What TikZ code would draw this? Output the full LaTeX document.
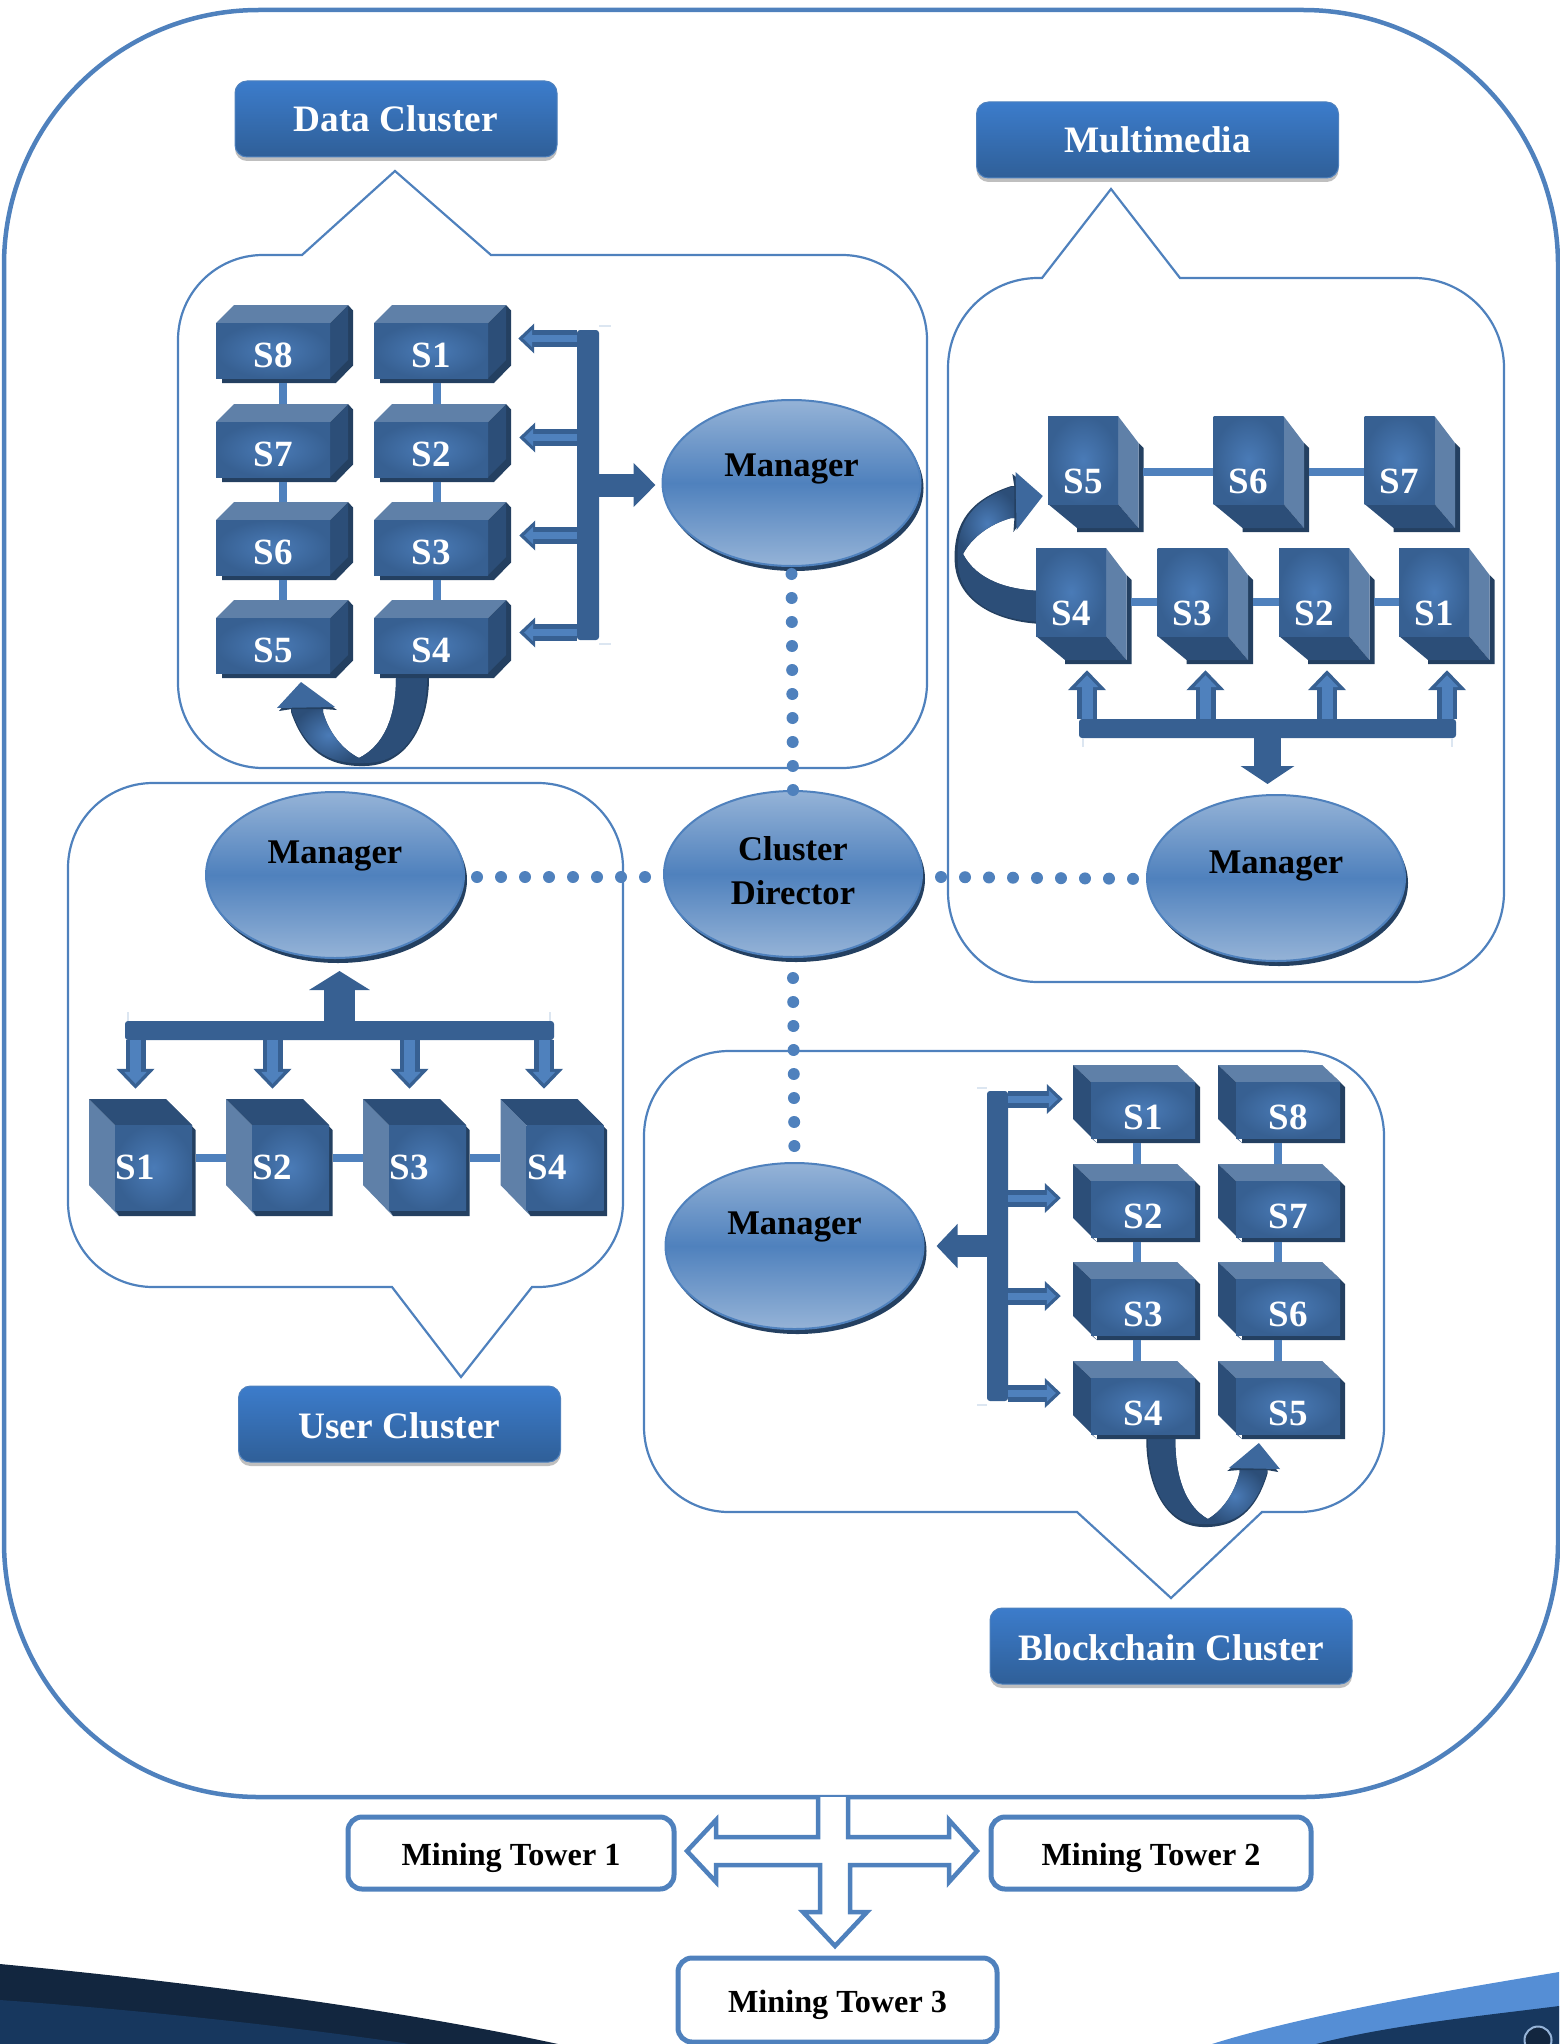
\documentclass[tikz,border=0pt]{standalone}
\usepackage{fontspec}
\newfontfamily\capfont{Liberation Serif}
\usetikzlibrary{arrows.meta, shapes.geometric, shadows}

\definecolor{frameblue}{HTML}{4F81BD}
\definecolor{busblue}{HTML}{376092}
\definecolor{srvmid}{HTML}{4A7BB7}
\definecolor{srvlight}{HTML}{5F80A8}
\definecolor{srvside}{HTML}{2C4E78}
\definecolor{srvshade}{HTML}{244061}
\definecolor{ballpale}{HTML}{95B3D7}
\definecolor{tagtop}{HTML}{3C7CCB}
\definecolor{tagbot}{HTML}{2F5F98}
\definecolor{navy}{HTML}{12263F}
\definecolor{navymid}{HTML}{17375E}
\definecolor{swoosh}{HTML}{558ED5}
\definecolor{tickpale}{HTML}{DCE6F1}

\tikzset{
  callout/.style={draw=frameblue, line width=2.2pt, line join=miter},
  srvfront/.style={rectangle, inner sep=0pt, inner color=srvmid, outer color=busblue},
  srvlabel/.style={inner sep=0pt, text=white, font=\capfont\bfseries\fontsize{37}{40}\selectfont},
  srvlink/.style={draw=frameblue, line width=8pt},
  ball/.style={ellipse, inner sep=0pt, minimum width=258pt, minimum height=166pt, draw=frameblue, line width=2pt,
    top color=ballpale, bottom color=ballpale, middle color=frameblue,
    drop shadow={shadow xshift=3pt, shadow yshift=-5pt, fill=srvshade, opacity=1}},
  balltext/.style={inner sep=0pt, align=center, font=\capfont\bfseries\fontsize{34.6}{44}\selectfont},
  clustertag/.style={rectangle, rounded corners=12pt, draw=frameblue, line width=1pt, inner sep=0pt,
    top color=tagtop, bottom color=tagbot, text=white, font=\capfont\bfseries\fontsize{37.3}{40}\selectfont,
    drop shadow={shadow xshift=0pt, shadow yshift=-4pt, fill=black, opacity=.25}},
  tower/.style={rectangle, rounded corners=14pt, draw=frameblue, line width=5pt, fill=white, inner sep=0pt,
    text height=24pt, text depth=0pt, font=\capfont\bfseries\fontsize{32.2}{34}\selectfont},
  bus/.style={rectangle, rounded corners=3pt, fill=busblue, inner sep=0pt},
  bustick/.style={draw=tickpale, line width=1.5pt},
  busout/.style 2 args={color=busblue, -{Triangle[length=#1, width=#2]}},
  beadline/.style={draw=frameblue, line width=12pt, line cap=round, dash pattern=on 0pt off 24pt},
  feedS/.style={color=busblue, line width=17pt, -{Triangle[length=16pt, width=29pt]}},
  feedSin/.style={color=frameblue, line width=7pt, shorten >=5pt, -{Triangle[length=9pt, width=17pt]}},
  feedL/.style={color=busblue, line width=20pt, -{Triangle[length=20pt, width=37pt]}},
  feedLin/.style={color=frameblue, line width=11pt, shorten >=5pt, -{Triangle[length=12pt, width=22pt]}}
}

% cube with top and right faces
\newcommand{\srvTR}[4]{
  \begin{scope}[shift={(#2,#3)}]
    \fill[srvshade] (-51,27.5) -- (-51,32.5) -- (63,32.5) -- (80,15) -- (80,-40) -- (75,-45.5) -- (57,27.5) -- cycle;
    \fill[srvlight] (-57,-27.5) -- (-39,-45.5) -- (75,-45.5) -- (57,-27.5) -- cycle;
    \fill[srvside] (57,-27.5) -- (75,-45.5) -- (75,9.5) -- (57,27.5) -- cycle;
  \end{scope}
  \node[srvfront, minimum width=114pt, minimum height=55pt] (#1) at (#2,#3) {};
  \node[srvlabel] (#1txt) at ([yshift=-5pt]#1) {#4};
}
% cube with top and left faces
\newcommand{\srvTL}[4]{
  \begin{scope}[shift={(#2,#3)}]
    \fill[srvshade] (-46,28) -- (-46,33) -- (57,33) -- (57,-23) -- (34,-45) -- (52,-28) -- cycle;
    \fill[srvlight] (-70,-45) -- (34,-45) -- (52,-28) -- (-52,-28) -- cycle;
    \fill[srvside] (-70,-45) -- (-52,-28) -- (-52,28) -- (-46,33) -- (-70,9) -- cycle;
  \end{scope}
  \node[srvfront, minimum width=104pt, minimum height=56pt] (#1) at (#2,#3) {};
  \node[srvlabel] (#1txt) at ([yshift=-7pt]#1) {#4};
}
% cube with right and bottom faces
\newcommand{\srvBR}[4]{
  \begin{scope}[shift={(#2,#3)}]
    \fill[srvshade] (55.5,-17) -- (60.5,-12) -- (60.5,72) -- (-6,72) -- (-6,68) -- (55.5,68) -- cycle;
    \fill[srvlight] (35,-44) -- (55.5,-17) -- (55.5,68) -- (35,44) -- cycle;
    \fill[srvside] (-35,44) -- (-6,68) -- (55.5,68) -- (35,44) -- cycle;
  \end{scope}
  \node[srvfront, minimum width=70pt, minimum height=88pt] (#1) at (#2,#3) {};
  \node[srvlabel] (#1txt) at ([yshift=-21pt]#1) {#4};
}
% cube with left and top faces, front lower right
\newcommand{\srvBL}[4]{
  \begin{scope}[shift={(#2,#3)}]
    \fill[srvshade] (12.5,-68.5) -- (42,-37.5) -- (42,48.5) -- (-34.5,48.5) -- (-38.5,42.5) -- (38.5,42.5) -- (38.5,-42.5) -- cycle;
    \fill[srvlight] (-64.5,-68.5) -- (-38.5,-42.5) -- (-38.5,42.5) -- (-34.5,48.5) -- (-64.5,17.5) -- cycle;
    \fill[srvside] (-64.5,-68.5) -- (12.5,-68.5) -- (38.5,-42.5) -- (-38.5,-42.5) -- cycle;
  \end{scope}
  \node[srvfront, minimum width=77pt, minimum height=85pt] (#1) at (#2,#3) {};
  \node[srvlabel] (#1txt) at ([xshift=-18pt]#1) {#4};
}
% ribbon arrow, local axes set by the scope
\newcommand{\curlarrow}{
  \fill[srvshade] (31,0) .. controls (31,37) and (42,67) .. (68,80) .. controls (84,72) and (98,55) .. (104,34) -- (104,27) -- (136,27) -- (136,34) .. controls (123,72) and (100,89) .. (62,88) .. controls (17,87) and (-2,42) .. (-2,0) -- cycle;
  \fill[srvside] (31,0) .. controls (31,37) and (42,67) .. (68,80) -- (62,85) .. controls (17,85) and (0,42) .. (0,0) -- cycle;
  \shade[inner color=srvmid, outer color=srvside] (68,80) .. controls (84,72) and (98,55) .. (104,34) -- (104,27) -- (135,27) -- (135,34) .. controls (122,70) and (100,87) .. (62,85) -- cycle;
  \fill[srvshade] (148,33) -- (126,7) -- (90,32) -- (104,31) -- (135,31) -- cycle;
  \fill[busblue!70!srvmid] (150,30) -- (126,4) -- (92,29) -- cycle;
}
\newcommand{\feeder}[3]{
  \draw[#1] #2 -- #3;
  \draw[#1in] #2 -- #3;
}

\begin{document}
\begin{tikzpicture}[x=1pt, y=-1pt]
  \useasboundingbox (0,0) rectangle (1559,2044);

  \fill[navy] (0,1964) .. controls (200,1983) and (400,2010) .. (558,2044) -- (0,2044) -- cycle;
  \fill[navymid] (0,2000) .. controls (140,2010) and (280,2025) .. (410,2044) -- (0,2044) -- cycle;
  \fill[swoosh] (1559,1972) .. controls (1500,1982) and (1320,2010) .. (1212,2044) -- (1559,2044) -- cycle;
  \fill[navymid] (1559,2006) .. controls (1480,2016) and (1390,2025) .. (1316,2044) -- (1559,2044) -- cycle;
  \node[circle, draw=ballpale, line width=2pt, fill=navy, minimum size=27pt, inner sep=0pt] (pagemark) at (1538,2040) {};

  \node[draw=frameblue, line width=4.5pt, rounded corners=255pt, minimum width=1554pt, minimum height=1787pt, inner sep=0pt] (frame) at (781,903.5) {};

  % callouts
  \draw[callout] (395,171) -- (491,255) [rounded corners=85pt] -- (927,255) -- (927,768) -- (178,768) -- (178,255) [sharp corners] -- (302,255) -- cycle;
  \draw[callout] (1111,189) -- (1180,278) [rounded corners=90pt] -- (1504,278) -- (1504,982) -- (948,982) -- (948,278) [sharp corners] -- (1042,278) -- cycle;
  \draw[callout] (461,1377) -- (392,1287) [rounded corners=85pt] -- (68,1287) -- (68,783) -- (623,783) -- (623,1287) [sharp corners] -- (532,1287) -- cycle;
  \draw[callout] (1171,1598) -- (1077,1512) [rounded corners=85pt] -- (644,1512) -- (644,1051) -- (1384,1051) -- (1384,1512) [sharp corners] -- (1262,1512) -- cycle;

  \node[clustertag, minimum width=322pt, minimum height=76pt] (tagData) at (396,119) {Data Cluster};
  \node[clustertag, minimum width=362pt, minimum height=76pt] (tagMedia) at (1157.5,140) {Multimedia};
  \node[clustertag, text height=30pt, minimum width=322pt, minimum height=76pt] (tagUser) at (399.5,1424) {User Cluster};
  \node[clustertag, text height=30pt, minimum width=362pt, minimum height=76pt] (tagChain) at (1171,1646) {Blockchain Cluster};

  % managers
  \node[ball] (mgrData) at (791.5,483) {};
  \node[ball] (director) at (793,874) {};
  \node[ball] (mgrUser) at (335,875) {};
  \node[ball] (mgrMedia) at (1276,878) {};
  \node[ball] (mgrChain) at (794.5,1246) {};
  \node[balltext] (mgrDataTxt) at ([yshift=14pt]mgrData) {Manager};
  \node[balltext] (directorTxt) at ([yshift=3pt]director) {Cluster\\Director};
  \node[balltext] (mgrUserTxt) at ([yshift=19pt]mgrUser) {Manager};
  \node[balltext] (mgrMediaTxt) at ([yshift=12pt]mgrMedia) {Manager};
  \node[balltext] (mgrChainTxt) at ([yshift=19pt]mgrChain) {Manager};

  \draw[beadline] ([yshift=-7pt]mgrData.south) -- (director.north);
  \draw[beadline] ([shift={(12,2)}]mgrUser.east) -- ([yshift=-3pt]director.west);
  \draw[beadline] ([shift={(18,3)}]director.east) -- ([yshift=-1pt]mgrMedia.west);
  \draw[beadline] ([yshift=-20pt]director.south) -- (mgrChain.north);

  % data cluster
  \begin{scope}[shift={(427,678)}, x={(-1pt,0pt)}, y={(0pt,-1pt)}]
    \curlarrow
  \end{scope}
  \srvTR{d8}{273}{350.5}{S8}
  \srvTR{d7}{273}{449.5}{S7}
  \srvTR{d6}{273}{547.5}{S6}
  \srvTR{d5}{273}{645.5}{S5}
  \srvTR{d1}{431}{350.5}{S1}
  \srvTR{d2}{431}{449.5}{S2}
  \srvTR{d3}{431}{547.5}{S3}
  \srvTR{d4}{431}{645.5}{S4}
  \path[srvlink]
  ([shift={(10,5)}]d8.south) edge ([shift={(10,-18)}]d7.north)
  ([shift={(10,5)}]d7.south) edge ([shift={(10,-18)}]d6.north)
  ([shift={(10,5)}]d6.south) edge ([shift={(10,-18)}]d5.north)
  ([shift={(6,5)}]d1.south) edge ([shift={(6,-18)}]d2.north)
  ([shift={(6,5)}]d2.south) edge ([shift={(6,-18)}]d3.north)
  ([shift={(6,5)}]d3.south) edge ([shift={(6,-18)}]d4.north)
  ;
  \node[bus, minimum width=22pt, minimum height=310pt] (dbus) at (588,485) {};
  \coordinate (d1tip) at ([shift={(30,-12)}]d1.east);
  \coordinate (d2tip) at ([shift={(31,-12)}]d2.east);
  \coordinate (d3tip) at ([shift={(31,-12)}]d3.east);
  \coordinate (d4tip) at ([shift={(31,-13)}]d4.east);
  \feeder{feedS}{(dbus.west |- d1tip)}{(d1tip)}
  \feeder{feedS}{(dbus.west |- d2tip)}{(d2tip)}
  \feeder{feedS}{(dbus.west |- d3tip)}{(d3tip)}
  \feeder{feedS}{(dbus.west |- d4tip)}{(d4tip)}
  \draw[busout={22pt}{43pt}, line width=23pt] (dbus.east) -- ([xshift=-6pt]mgrData.west |- dbus.east);
  \path[bustick]
  ([yshift=4pt]dbus.north east) edge +(12,0)
  ([yshift=-4pt]dbus.south east) edge +(12,0)
  ;

  % multimedia
  \begin{scope}[shift={(1047,622)}, x={(0pt,1pt)}, y={(-1.05pt,0pt)}]
    \curlarrow
  \end{scope}
  \srvBR{m5}{1083}{460}{S5}
  \srvBR{m6}{1248.5}{460}{S6}
  \srvBR{m7}{1399.5}{460}{S7}
  \srvBR{m4}{1071}{592}{S4}
  \srvBR{m3}{1192.5}{592}{S3}
  \srvBR{m2}{1314}{592}{S2}
  \srvBR{m1}{1434}{592}{S1}
  \path[srvlink]
  ([shift={(25,12)}]m5.east) edge ([yshift=-12pt]m6.west)
  ([shift={(25,12)}]m6.east) edge ([yshift=-12pt]m7.west)
  ([shift={(25,10)}]m4.east) edge ([yshift=-10pt]m3.west)
  ([shift={(25,10)}]m3.east) edge ([yshift=-10pt]m2.west)
  ([shift={(25,10)}]m2.east) edge ([yshift=-10pt]m1.west)
  ;
  \node[bus, minimum width=377pt, minimum height=19pt] (mbus) at (1267.5,728.5) {};
  \coordinate (m4tip) at ([shift={(16,34)}]m4.south);
  \coordinate (m3tip) at ([shift={(13,34)}]m3.south);
  \coordinate (m2tip) at ([shift={(13,34)}]m2.south);
  \coordinate (m1tip) at ([shift={(13,34)}]m1.south);
  \feeder{feedL}{(mbus.north -| m4tip)}{(m4tip)}
  \feeder{feedL}{(mbus.north -| m3tip)}{(m3tip)}
  \feeder{feedL}{(mbus.north -| m2tip)}{(m2tip)}
  \feeder{feedL}{(mbus.north -| m1tip)}{(m1tip)}
  \draw[busout={18pt}{53pt}, line width=27pt] (mbus.south) -- ([shift={(-8.5,-10)}]mgrMedia.north);
  \path[bustick]
  ([xshift=4pt]mbus.south west) edge +(0,9)
  ([xshift=-4pt]mbus.south east) edge +(0,9)
  ;

  % user cluster
  \srvBL{u1}{153.5}{1167.5}{S1}
  \srvBL{u2}{290.5}{1167.5}{S2}
  \srvBL{u3}{427.5}{1167.5}{S3}
  \srvBL{u4}{565}{1167.5}{S4}
  \path[srvlink]
  ([shift={(3.5,-10)}]u1.east) edge ([shift={(-26,-10)}]u2.west)
  ([shift={(3.5,-10)}]u2.east) edge ([shift={(-26,-10)}]u3.west)
  ([shift={(3.5,-10)}]u3.east) edge ([shift={(-26,-10)}]u4.west)
  ;
  \node[bus, minimum width=429pt, minimum height=19pt] (ubus) at (339.5,1030.5) {};
  \coordinate (u1tip) at ([shift={(-18,-36)}]u1.north);
  \coordinate (u2tip) at ([shift={(-18,-36)}]u2.north);
  \coordinate (u3tip) at ([shift={(-18,-36)}]u3.north);
  \coordinate (u4tip) at ([shift={(-21,-36)}]u4.north);
  \feeder{feedL}{(ubus.south -| u1tip)}{(u1tip)}
  \feeder{feedL}{(ubus.south -| u2tip)}{(u2tip)}
  \feeder{feedL}{(ubus.south -| u3tip)}{(u3tip)}
  \feeder{feedL}{(ubus.south -| u4tip)}{(u4tip)}
  \draw[busout={19pt}{60pt}, line width=31pt] (ubus.north) -- ([shift={(4.5,12)}]mgrUser.south);
  \path[bustick]
  ([xshift=3pt]ubus.north west) edge +(0,-9)
  ([xshift=-4pt]ubus.north east) edge +(0,-9)
  ;

  % blockchain cluster
  \begin{scope}[shift={(1148,1439)}, x={(.88pt,0pt)}, y={(0pt,-1pt)}]
    \curlarrow
  \end{scope}
  \srvTL{b1}{1143}{1110}{S1}
  \srvTL{b2}{1143}{1209}{S2}
  \srvTL{b3}{1143}{1307}{S3}
  \srvTL{b4}{1143}{1406}{S4}
  \srvTL{b8}{1288}{1110}{S8}
  \srvTL{b7}{1288}{1209}{S7}
  \srvTL{b6}{1288}{1307}{S6}
  \srvTL{b5}{1288}{1406}{S5}
  \path[srvlink]
  ([shift={(-6,5)}]b1.south) edge ([shift={(-6,-17)}]b2.north)
  ([shift={(-6,5)}]b2.south) edge ([shift={(-6,-17)}]b3.north)
  ([shift={(-6,5)}]b3.south) edge ([shift={(-6,-17)}]b4.north)
  ([shift={(-10,5)}]b8.south) edge ([shift={(-10,-17)}]b7.north)
  ([shift={(-10,5)}]b7.south) edge ([shift={(-10,-17)}]b6.north)
  ([shift={(-10,5)}]b6.south) edge ([shift={(-10,-17)}]b5.north)
  ;
  \node[bus, minimum width=21pt, minimum height=310pt] (bbus) at (997.5,1246) {};
  \coordinate (b1tip) at ([shift={(-28,-11)}]b1.west);
  \coordinate (b2tip) at ([shift={(-30,-11)}]b2.west);
  \coordinate (b3tip) at ([shift={(-30,-11)}]b3.west);
  \coordinate (b4tip) at ([shift={(-30,-13)}]b4.west);
  \feeder{feedS}{(bbus.east |- b1tip)}{(b1tip)}
  \feeder{feedS}{(bbus.east |- b2tip)}{(b2tip)}
  \feeder{feedS}{(bbus.east |- b3tip)}{(b3tip)}
  \feeder{feedS}{(bbus.east |- b4tip)}{(b4tip)}
  \draw[busout={21pt}{43pt}, line width=22pt] (bbus.west) -- ([xshift=12pt]mgrChain.east |- bbus.west);
  \path[bustick]
  ([yshift=3pt]bbus.north west) edge +(-10,0)
  ([yshift=-4pt]bbus.south west) edge +(-10,0)
  ;

  % mining towers
  \node[tower, minimum width=326pt, minimum height=72pt] (T1) at (511,1853) {Mining Tower 1};
  \node[tower, minimum width=320pt, minimum height=72pt] (T2) at (1151,1853) {Mining Tower 2};
  \node[tower, minimum width=319pt, minimum height=84pt] (T3) at (837.5,2000) {Mining Tower 3};
  \coordinate (hub) at (T3.north |- T1.east);
  \begin{scope}[shift={(hub)}]
    \draw[frameblue, line width=4.5pt, fill=white] (-19.5,-56) -- (-19.5,-16) -- (-121.5,-16) -- (-121.5,-33) -- (-150.5,-2) -- (-121.5,29) -- (-121.5,12) -- (-17.5,12) -- (-17.5,59) -- (-34.5,59) -- (-2.5,93) -- (29.5,59) -- (12.5,59) -- (12.5,12) -- (111.5,12) -- (111.5,29) -- (139.5,-2) -- (111.5,-33) -- (111.5,-16) -- (10.5,-16) -- (10.5,-56);
  \end{scope}
\end{tikzpicture}
\end{document}
